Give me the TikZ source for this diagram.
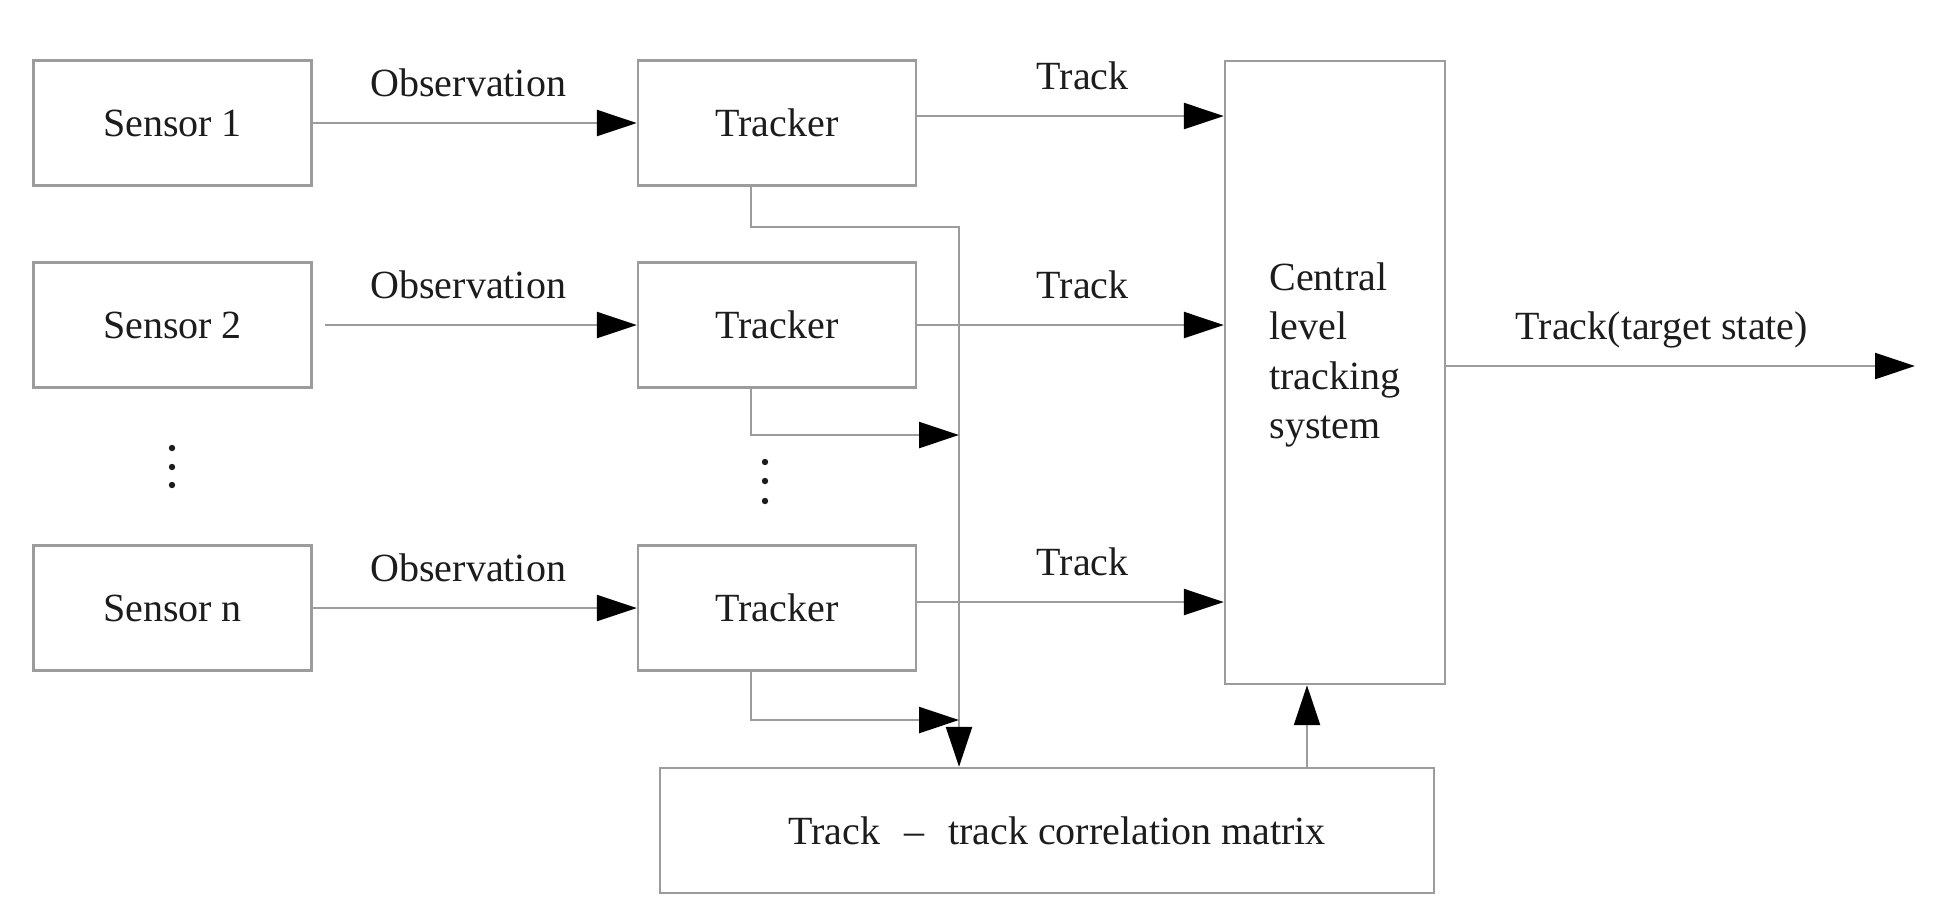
\documentclass[tikz,border=0pt]{standalone}
\usepackage{fontspec}
\setmainfont{Liberation Serif}
\usepackage{xcolor}
\usetikzlibrary{arrows.meta}
\definecolor{wireink}{HTML}{9C9C9C}
\definecolor{textink}{HTML}{1C1C1C}

\begin{document}
\begin{tikzpicture}[
  x=0.5pt,
  y=-0.5pt,
  every node/.style={font=\fontsize{20}{24.6}\selectfont, textink},
  block/.style={draw=wireink, line width=1.2pt, inner sep=0pt,
               minimum width=139pt, minimum height=62.5pt},
  flow/.style={wireink, line width=1.2pt,
               -{Triangle[length=20pt, width=13pt, color=black]}},
  lbl/.style={anchor=base, inner sep=0pt, yshift=13.5pt}
]
  \useasboundingbox (0,0) rectangle (1933,923);

  % ---- sensors and their trackers --------------------------------------
  \node[block] (s1) at (172.5,123) {Sensor 1};
  \node[block] (s2) at (172.5,325) {Sensor 2};
  \node[block] (sn) at (172.5,608) {Sensor n};

  \node[block] (t1) at (777,123) {Tracker};
  \node[block] (t2) at (777,325) {Tracker};
  \node[block] (tn) at (777,608) {Tracker};

  % ---- fusion side -----------------------------------------------------
  % the four lines sit a little above the middle of the tall box
  \node[block, minimum width=110pt, minimum height=311.5pt]
    (cen) at (1335,372.5) {};
  \node[align=left, inner sep=0pt] (centxt) at ([yshift=8.8pt]cen.center)
    {Central\\level\\tracking\\system};
  \node[block, minimum width=387pt] (mat) at (1047,830.5)
    {\hspace{10pt}Track\hspace{0.6em}--\hspace{0.6em}track correlation matrix};

  % ---- observations ----------------------------------------------------
  \draw[flow] (s1.east) -- (t1.west) node[lbl, pos=.48] {Observation};
  \draw[flow, shorten <=6pt] (s2.east) -- (t2.west)
    node[lbl, pos=.48] {Observation};
  \draw[flow] (sn.east) -- (tn.west) node[lbl, pos=.48] {Observation};

  % ---- tracks into the central system ----------------------------------
  \draw[flow] ([yshift=3.5pt]t1.east) -- ([yshift=3.5pt]t1.east -| cen.west)
    node[lbl, pos=.54] {Track};
  \draw[flow] (t2.east) -- (t2.east -| cen.west) node[lbl, pos=.54] {Track};
  \draw[flow] ([yshift=3pt]tn.east) -- ([yshift=3pt]tn.east -| cen.west)
    node[lbl, pos=.54] {Track};

  \coordinate (out) at (1915,366);
  \draw[flow] (cen.east |- out) -- (out)
    node[lbl, pos=.46] {Track(target state)};

  % ---- bus down to the correlation matrix ------------------------------
  \coordinate (bus) at (959,227);
  \coordinate (j2) at (959,435);
  \coordinate (jn) at (959,720);
  \draw[flow] ([xshift=-13pt]t1.south) |- (bus) -- (bus |- mat.north);
  \draw[flow] ([xshift=-13pt]t2.south) |- (j2);
  \draw[flow] ([xshift=-13pt]tn.south) |- (jn);

  \coordinate (upfoot) at ([xshift=-14pt]cen.south);
  \draw[flow] (upfoot |- mat.north) -- (upfoot);

  % ---- ellipses between rows ---------------------------------------------
  \foreach \y in {448,467,485}
    \fill[textink] (172,\y) circle (1.6pt);
  \foreach \y in {462,481,501}
    \fill[textink] (765,\y) circle (1.6pt);
\end{tikzpicture}
\end{document}
